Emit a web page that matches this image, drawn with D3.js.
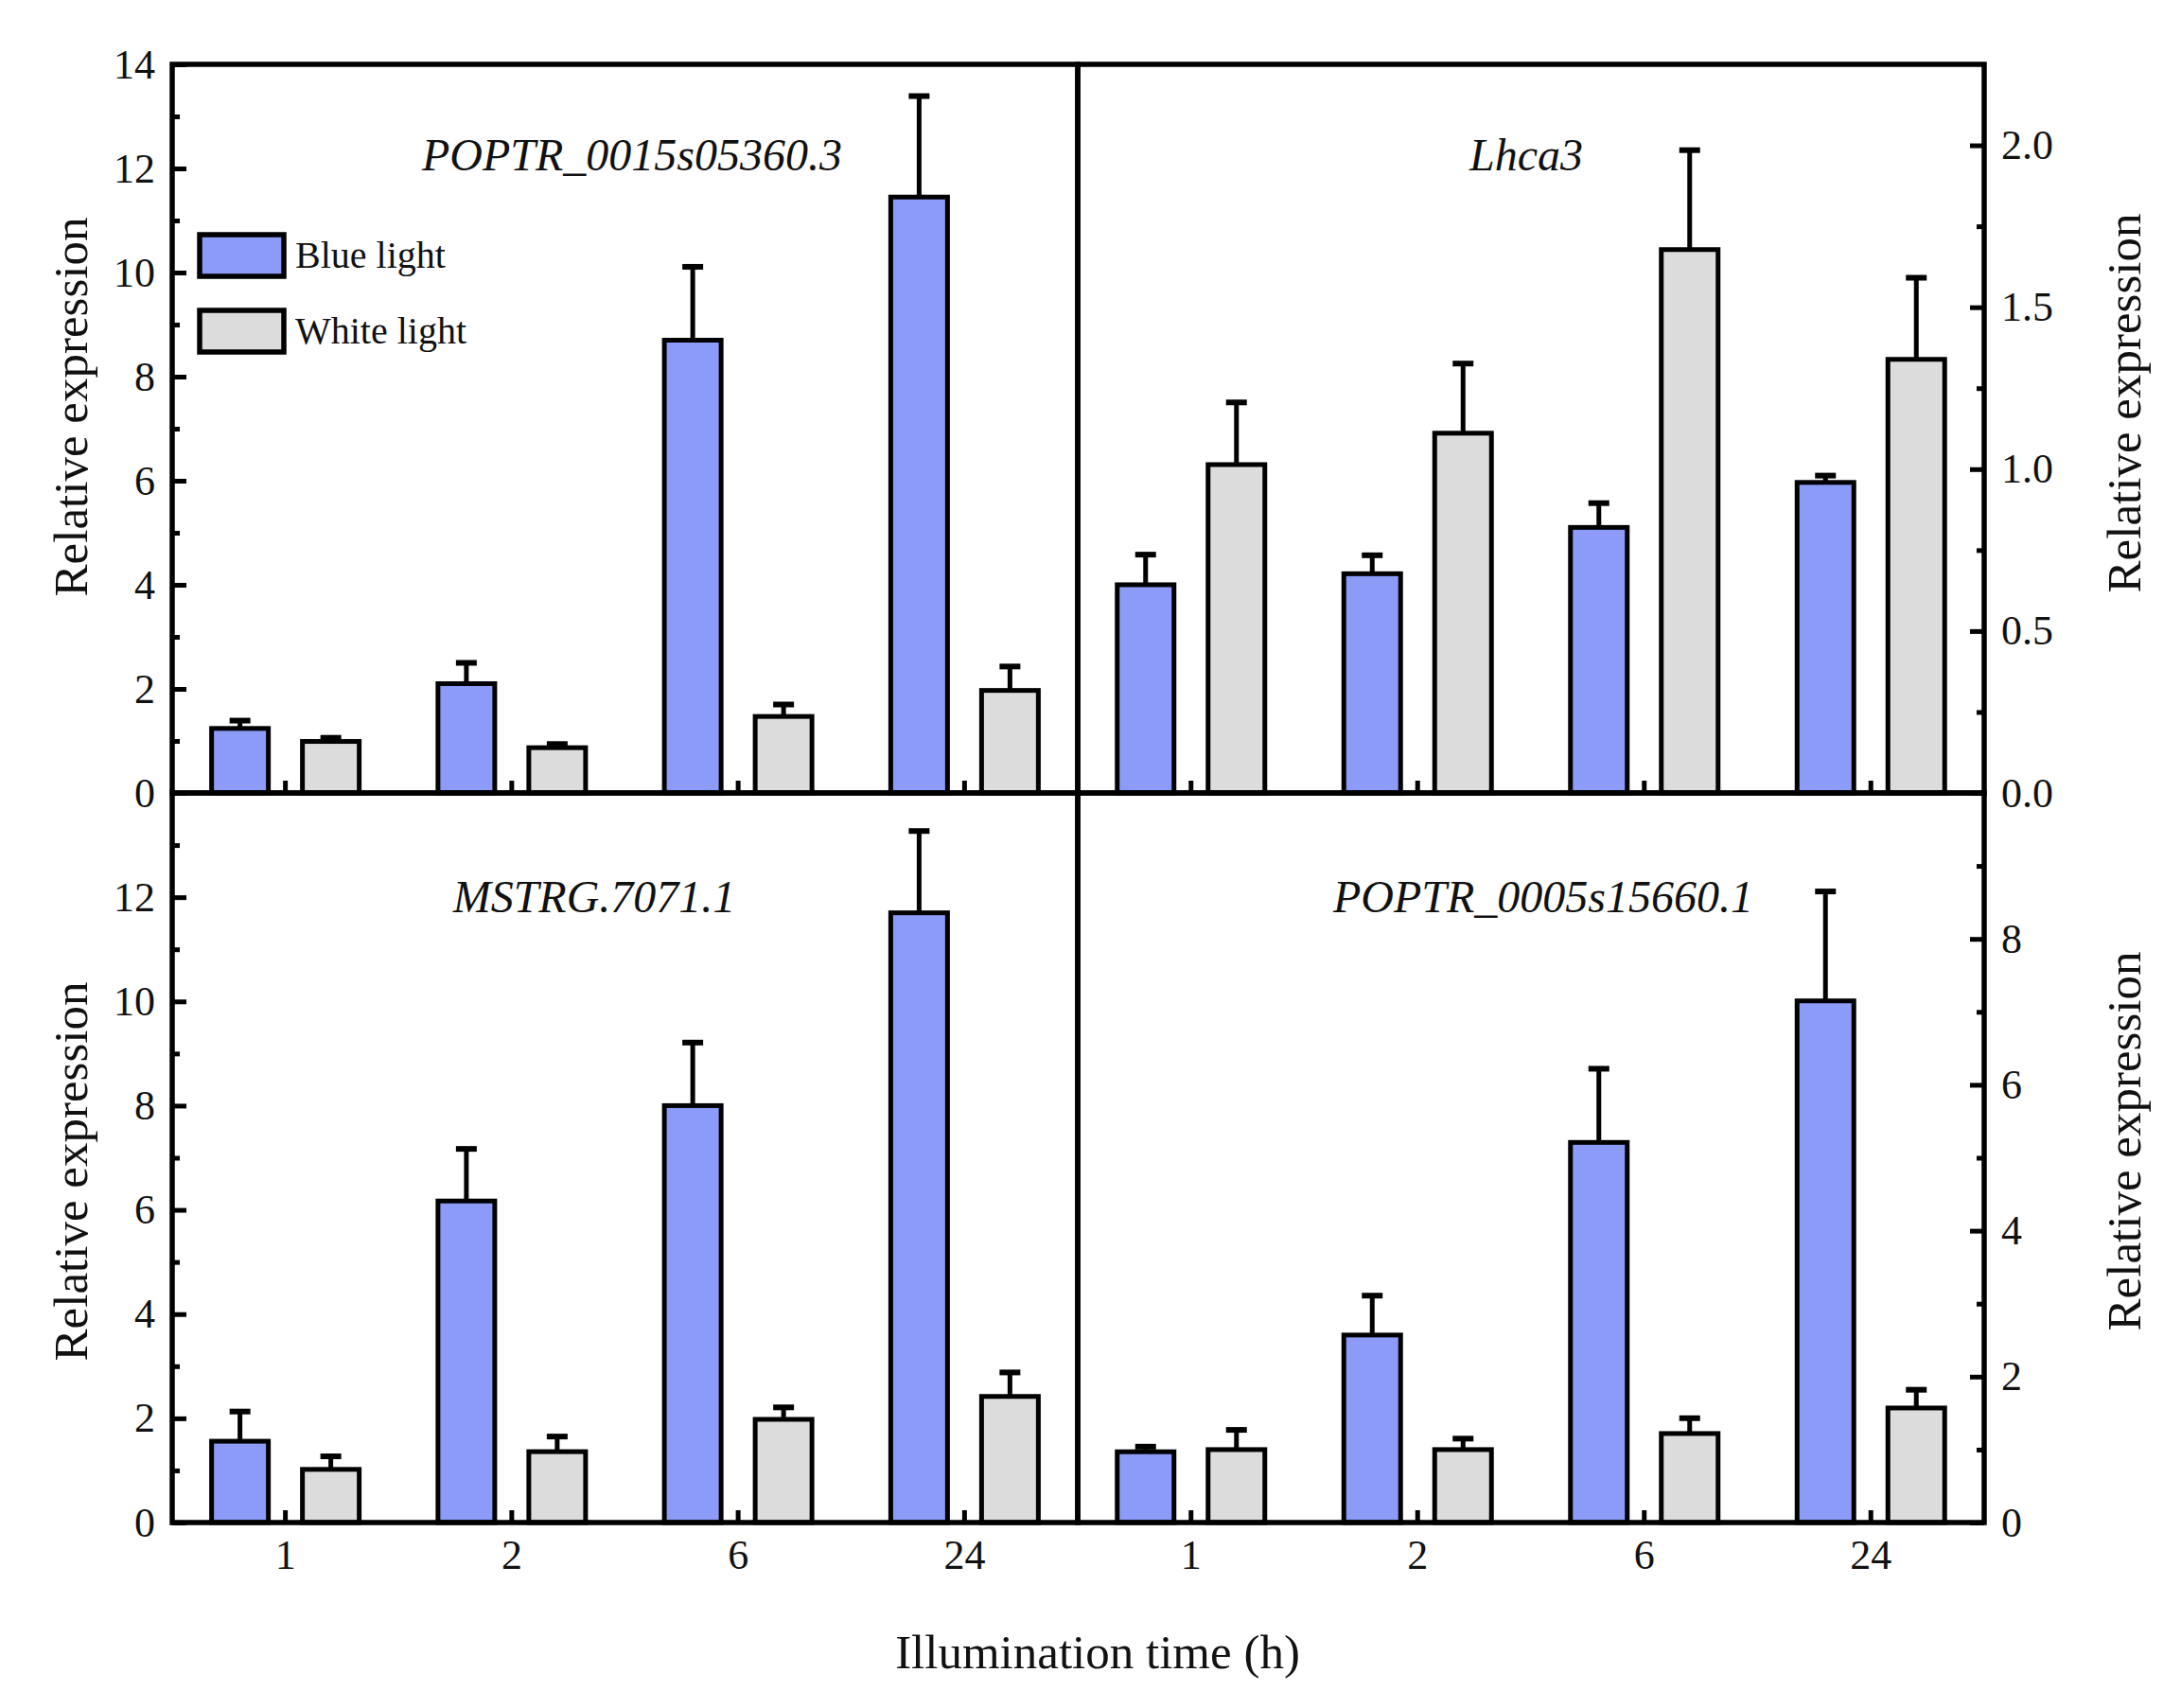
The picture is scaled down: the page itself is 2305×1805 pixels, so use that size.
<!DOCTYPE html>
<html>
<head>
<meta charset="utf-8">
<script src="https://cdn.jsdelivr.net/npm/d3@7"></script>
<style>
  html, body { margin: 0; padding: 0; background: #fff; }
  svg { display: block; }
  text { font-family: "Liberation Serif", "Times New Roman", serif; fill: #111; }
</style>
</head>
<body>
<svg id="chart" width="2305" height="1805"></svg>
<script>
// ---------------- Data ----------------
const categories = ["1", "2", "6", "24"];
const seriesNames = ["Blue light", "White light"];
const seriesKeys = ["blue", "white"];

// Panel A: POPTR_0015s05360.3
const aTitle = "POPTR_0015s05360.3";
const aBlue = [1.24, 2.10, 8.70, 11.45];
const aBlueErr = [0.15, 0.40, 1.41, 1.94];
const aWhite = [0.99, 0.87, 1.47, 1.97];
const aWhiteErr = [0.07, 0.07, 0.23, 0.46];
const aTicks = [0, 2, 4, 6, 8, 10, 12, 14];
const aMinor = [1, 3, 5, 7, 9, 11, 13];

// Panel B: Lhca3
const bTitle = "Lhca3";
const bBlue = [0.643, 0.677, 0.820, 0.959];
const bBlueErr = [0.093, 0.057, 0.075, 0.021];
const bWhite = [1.014, 1.111, 1.678, 1.339];
const bWhiteErr = [0.192, 0.215, 0.307, 0.252];
const bTicks = [0.0, 0.5, 1.0, 1.5, 2.0];
const bMinor = [0.25, 0.75, 1.25, 1.75];

// Panel C: MSTRG.7071.1
const cTitle = "MSTRG.7071.1";
const cBlue = [1.56, 6.17, 8.00, 11.70];
const cBlueErr = [0.57, 1.00, 1.21, 1.57];
const cWhite = [1.02, 1.36, 1.98, 2.42];
const cWhiteErr = [0.25, 0.29, 0.23, 0.46];
const cTicks = [0, 2, 4, 6, 8, 10, 12];
const cMinor = [1, 3, 5, 7, 9, 11, 13];

// Panel D: POPTR_0005s15660.1
const dTitle = "POPTR_0005s15660.1";
const dBlue = [0.97, 2.57, 5.21, 7.15];
const dBlueErr = [0.07, 0.54, 1.01, 1.50];
const dWhite = [1.00, 1.00, 1.22, 1.57];
const dWhiteErr = [0.27, 0.15, 0.21, 0.25];
const dTicks = [0, 2, 4, 6, 8];
const dMinor = [1, 3, 5, 7, 9];

const yLabel = "Relative expression";
const xLabel = "Illumination time (h)";

// ---------------- Layout ----------------
const FONT = '"Liberation Serif", "Times New Roman", serif';
const colors = { blue: "#8c9bf8", white: "#dcdcdc" };
const X0 = 182, XM = 1139, X1 = 2097;
const Y0 = 68, YM = 838, Y1 = 1609;
const LW = 5;

const panels = [
  { title: aTitle, blue: aBlue, blueErr: aBlueErr, white: aWhite, whiteErr: aWhiteErr,
    ticks: aTicks, minor: aMinor, max: 14, fmt: d3.format("d"),
    x: [X0, XM], y: [Y0, YM], side: "left", xLabels: false,
    titleX: 668, titleY: 180, yTitleY: 430 },
  { title: bTitle, blue: bBlue, blueErr: bBlueErr, white: bWhite, whiteErr: bWhiteErr,
    ticks: bTicks, minor: bMinor, max: 2.25, fmt: d3.format(".1f"),
    x: [XM, X1], y: [Y0, YM], side: "right", xLabels: false,
    titleX: 1613, titleY: 180, yTitleY: 426 },
  { title: cTitle, blue: cBlue, blueErr: cBlueErr, white: cWhite, whiteErr: cWhiteErr,
    ticks: cTicks, minor: cMinor, max: 14, fmt: d3.format("d"),
    x: [X0, XM], y: [YM, Y1], side: "left", xLabels: true,
    titleX: 628, titleY: 964, yTitleY: 1238 },
  { title: dTitle, blue: dBlue, blueErr: dBlueErr, white: dWhite, whiteErr: dWhiteErr,
    ticks: dTicks, minor: dMinor, max: 10, fmt: d3.format("d"),
    x: [XM, X1], y: [YM, Y1], side: "right", xLabels: true,
    titleX: 1631, titleY: 964, yTitleY: 1206 }
];

const svg = d3.select("#chart");

panels.forEach(p => {
  const g = svg.append("g");
  const x = d3.scaleBand().domain(categories).range(p.x).padding(0);
  const bw = x.bandwidth();
  const inner = d3.scaleBand().domain(seriesKeys)
    .range([bw / 2 - 78, bw / 2 + 78]).paddingInner(0.375).paddingOuter(0);
  const y = d3.scaleLinear().domain([0, p.max]).range([p.y[1], p.y[0]]);

  const rows = [];
  categories.forEach((c, i) => {
    rows.push({ cat: c, key: "blue", v: p.blue[i], e: p.blueErr[i] });
    rows.push({ cat: c, key: "white", v: p.white[i], e: p.whiteErr[i] });
  });

  // error bars
  const capW = 22;
  const eg = g.append("g").attr("stroke", "#000").attr("stroke-width", LW).attr("fill", "none");
  rows.forEach(r => {
    const cx = x(r.cat) + inner(r.key) + inner.bandwidth() / 2;
    eg.append("line").attr("x1", cx).attr("x2", cx).attr("y1", y(r.v)).attr("y2", y(r.v + r.e));
    eg.append("line").attr("x1", cx - capW / 2).attr("x2", cx + capW / 2)
      .attr("y1", y(r.v + r.e)).attr("y2", y(r.v + r.e)).attr("stroke-width", 6);
  });

  // bars
  g.append("g").selectAll("rect").data(rows).join("rect")
    .attr("x", d => x(d.cat) + inner(d.key))
    .attr("width", inner.bandwidth())
    .attr("y", d => y(d.v))
    .attr("height", d => y(0) - y(d.v))
    .attr("fill", d => colors[d.key])
    .attr("stroke", "#000")
    .attr("stroke-width", LW);

  // y axis (major)
  const axisFn = p.side === "left" ? d3.axisLeft : d3.axisRight;
  const axX = p.side === "left" ? p.x[0] : p.x[1];
  const ya = g.append("g").attr("transform", `translate(${axX},0)`)
    .call(axisFn(y).tickValues(p.ticks).tickFormat(p.fmt).tickSize(-15).tickSizeOuter(0).tickPadding(18));
  ya.select(".domain").remove();
  ya.selectAll("line").attr("stroke", "#000").attr("stroke-width", LW);
  ya.selectAll("text").attr("font-size", 44).attr("font-family", FONT).attr("fill", "#111");

  // y axis (minor)
  const ym = g.append("g").attr("transform", `translate(${axX},0)`)
    .call(axisFn(y).tickValues(p.minor).tickFormat("").tickSize(-8).tickSizeOuter(0));
  ym.select(".domain").remove();
  ym.selectAll("line").attr("stroke", "#000").attr("stroke-width", LW);

  // x axis
  const xa = g.append("g").attr("transform", `translate(0,${p.y[1]})`)
    .call(d3.axisBottom(x).tickSize(-13).tickSizeOuter(0).tickPadding(18)
      .tickFormat(p.xLabels ? (d => d) : ""));
  xa.select(".domain").remove();
  xa.selectAll("line").attr("stroke", "#000").attr("stroke-width", LW);
  xa.selectAll("text").attr("font-size", 44).attr("font-family", FONT).attr("fill", "#111");

  // frame
  g.append("rect")
    .attr("x", p.x[0]).attr("y", p.y[0])
    .attr("width", p.x[1] - p.x[0]).attr("height", p.y[1] - p.y[0])
    .attr("fill", "none").attr("stroke", "#000").attr("stroke-width", LW + 0.5);

  // panel title (italic gene name)
  g.append("text")
    .attr("x", p.titleX).attr("y", p.titleY)
    .attr("text-anchor", "middle")
    .attr("font-style", "italic")
    .attr("font-size", 48)
    .text(p.title);

  // y axis title
  const tx = p.side === "left" ? 92 : 2262;
  g.append("text")
    .attr("transform", `translate(${tx},${p.yTitleY}) rotate(-90)`)
    .attr("text-anchor", "middle")
    .attr("font-size", 51)
    .text(yLabel);
});

// legend (in panel A)
const legend = svg.append("g");
const legendRows = seriesKeys.map((k, i) => ({ key: k, name: seriesNames[i], i }));
legend.selectAll("rect").data(legendRows).join("rect")
  .attr("x", 211)
  .attr("y", d => 248 + d.i * 80)
  .attr("width", 89)
  .attr("height", 44)
  .attr("fill", d => colors[d.key])
  .attr("stroke", "#000")
  .attr("stroke-width", 5.5);
legend.selectAll("text").data(legendRows).join("text")
  .attr("x", 312)
  .attr("y", d => 283 + d.i * 80)
  .attr("font-size", 40)
  .text(d => d.name);

// x axis title
svg.append("text")
  .attr("x", 1160).attr("y", 1763)
  .attr("text-anchor", "middle")
  .attr("font-size", 51)
  .text(xLabel);
</script>
</body>
</html>
